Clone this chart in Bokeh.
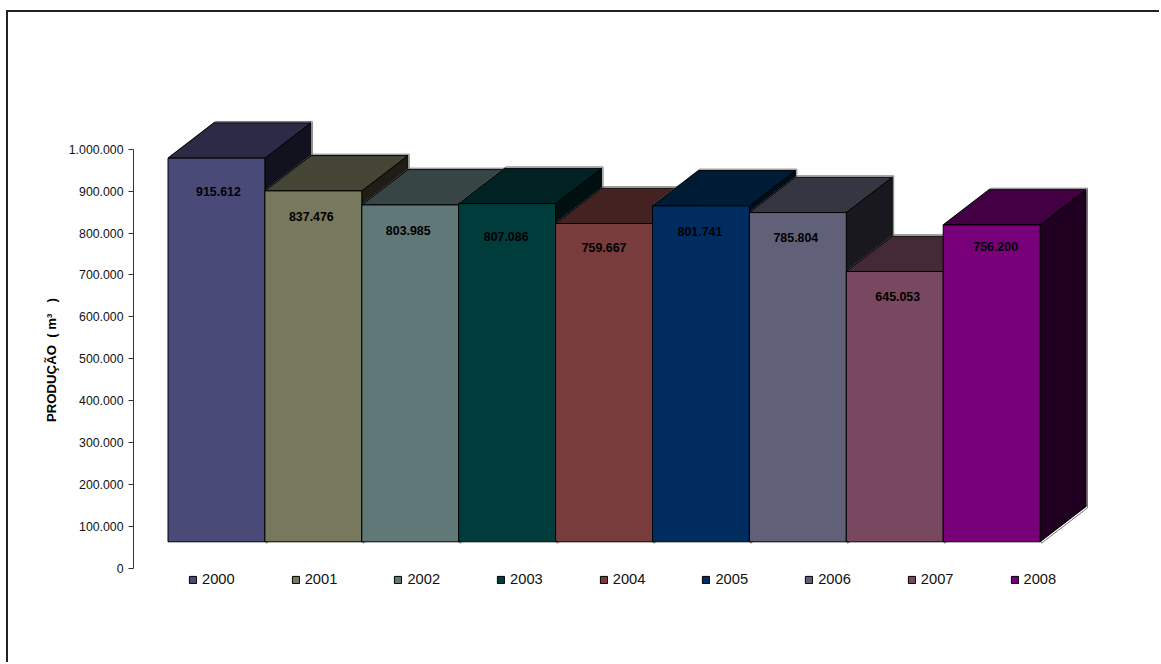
from bokeh.embed import file_html
from bokeh.models import ColumnDataSource, Legend, LegendItem, Range1d, Title
from bokeh.plotting import figure
from bokeh.resources import INLINE
from bokeh.core.properties import value

# Annual production figures
years = ["2000", "2001", "2002", "2003", "2004", "2005", "2006", "2007", "2008"]
production = [915612, 837476, 803985, 807086, 759667, 801741, 785804, 645053, 756200]
value_labels = ["915.612", "837.476", "803.985", "807.086", "759.667",
                "801.741", "785.804", "645.053", "756.200"]
y_ticks = [0, 100000, 200000, 300000, 400000, 500000, 600000, 700000, 800000, 900000, 1000000]
y_tick_labels = ["0", "100.000", "200.000", "300.000", "400.000", "500.000",
                 "600.000", "700.000", "800.000", "900.000", "1.000.000"]

# Face colours of each box
front_colors = ["#4A4A78", "#78785F", "#607878", "#003C3C", "#783C3C",
                "#002C60", "#606078", "#784860", "#780078"]
top_colors = ["#2B2B46", "#454535", "#384545", "#002222", "#442222",
              "#001B36", "#363642", "#442A36", "#420042"]
side_colors = ["#12121E", "#1E1E17", "#181E1E", "#000F0F", "#1E0F0F",
               "#000C18", "#18181E", "#1E1218", "#200020"]

# Label nudges in pixels, relative to the centre of each front face and its top edge
label_dx = [2, -2, -2, -1, 0, -1, -2, 3, 4]
label_dy = [33, 26, 26, 33, 24, 26, 25, 25, 22]

# Page frame: a rule along the top and left of the figure, in pixels from the window corner
RULE = 2
INSET_X = 6 + RULE
INSET_Y = 10 + RULE

# Layout, in pixels from the figure's own corner
WIDTH, HEIGHT = 1161 - INSET_X, 664 - INSET_Y
AXIS_X = 133 - INSET_X
BAR_LEFT = 167.5 - INSET_X
BAR_STEP = 96.9
ZERO_Y = 567.7 - INSET_Y
PX_PER_UNIT = 0.000419
FLOOR_LIFT = 26.4
DEPTH_X = 46
DEPTH_Y = 35.3
EDGE = 1.4

# Data-space equivalents of the projection offsets
floor = FLOOR_LIFT / PX_PER_UNIT
depth_x = DEPTH_X / BAR_STEP
depth_y = DEPTH_Y / PX_PER_UNIT
edge_x = EDGE / BAR_STEP
edge_y = EDGE / PX_PER_UNIT

p = figure(
    width=WIDTH, height=HEIGHT, output_backend="svg", toolbar_location=None,
    x_range=Range1d((AXIS_X - BAR_LEFT) / BAR_STEP, (WIDTH - BAR_LEFT) / BAR_STEP),
    y_range=Range1d((ZERO_Y - HEIGHT) / PX_PER_UNIT, ZERO_Y / PX_PER_UNIT),
    min_border_left=AXIS_X, min_border_right=0, min_border_top=0, min_border_bottom=0,
    outline_line_color=None, background_fill_color="white", border_fill_color="white",
    margin=(10, 0, 0, 6),
    styles={"border-top": f"{RULE}px solid #222222", "border-left": f"{RULE}px solid #222222"},
)
p.xaxis.visible = False
p.xgrid.visible = False
p.ygrid.visible = False

yaxis = p.yaxis[0]
yaxis.ticker = y_ticks
yaxis.major_label_overrides = {t: s for t, s in zip(y_ticks, y_tick_labels)}
yaxis.bounds = (0, 1000000)
yaxis.minor_tick_line_color = None
yaxis.major_tick_in = 0
yaxis.major_tick_out = 5
yaxis.axis_line_color = "#333333"
yaxis.major_tick_line_color = "#333333"
yaxis.axis_line_width = 1
yaxis.major_label_text_font = "Liberation Sans"
yaxis.major_label_text_font_size = "12.3px"
yaxis.major_label_text_color = "#111111"
yaxis.major_label_standoff = 5

# Axis title, placed along the side panel so it starts level with the box midpoint
p.add_layout(Title(
    text="PRODUÇÃO\u00a0\u00a0(\u00a0m³\u00a0\u00a0\u00a0)",
    align="left", offset=664 - 421.5, standoff=14,
    text_font="Liberation Sans", text_font_style="bold", text_font_size="13.2px",
    text_color="#000000",
), "left")

# Boxes are painted left to right so that each one overlaps its neighbour's depth faces
items = []
for i, (year, v) in enumerate(zip(years, production)):
    x0, x1 = float(i), float(i + 1)
    top_y = v + floor
    # Thin highlight just outside the back edges
    p.patch(
        [x0 + edge_x, x0 + depth_x + edge_x, x1 + depth_x + edge_x, x1 + depth_x + edge_x, x1 + edge_x],
        [top_y + edge_y, top_y + depth_y + edge_y, top_y + depth_y + edge_y, floor + depth_y - edge_y, floor - edge_y],
        fill_color=None, line_color="#777777", line_width=1,
    )
    p.patch(
        [x1, x1 + depth_x, x1 + depth_x, x1],
        [floor, floor + depth_y, top_y + depth_y, top_y],
        fill_color=side_colors[i], line_color="black", line_width=1,
    )
    p.patch(
        [x0, x0 + depth_x, x1 + depth_x, x1],
        [top_y, top_y + depth_y, top_y + depth_y, top_y],
        fill_color=top_colors[i], line_color="black", line_width=1,
    )
    front = p.quad(
        left=x0, right=x1, bottom=floor, top=top_y,
        fill_color=front_colors[i], line_color="black", line_width=1,
    )
    items.append(LegendItem(label=year, renderers=[front]))

# Value labels sit on the front faces, drawn after every box
label_source = ColumnDataSource(dict(
    x=[i + 0.5 for i in range(len(years))],
    y=[v + floor for v in production],
    text=value_labels,
    dx=label_dx,
    dy=label_dy,
))
p.text(
    x="x", y="y", text="text", x_offset="dx", y_offset="dy", source=label_source,
    text_font=value("Liberation Sans"), text_font_style="bold", text_font_size="12.4px",
    text_color="#000000", text_align="center", text_baseline="middle",
)

legend = Legend(
    items=items, orientation="horizontal", location=(55, 77),
    glyph_width=9, glyph_height=9, label_standoff=5, spacing=56,
    margin=0, padding=0, border_line_color=None, background_fill_color=None,
    background_fill_alpha=0, label_text_font="Liberation Sans",
    label_text_font_size="14.7px", label_text_color="#111111",
)
p.add_layout(legend, "center")

open("out.html", "w").write(file_html(p, INLINE))
